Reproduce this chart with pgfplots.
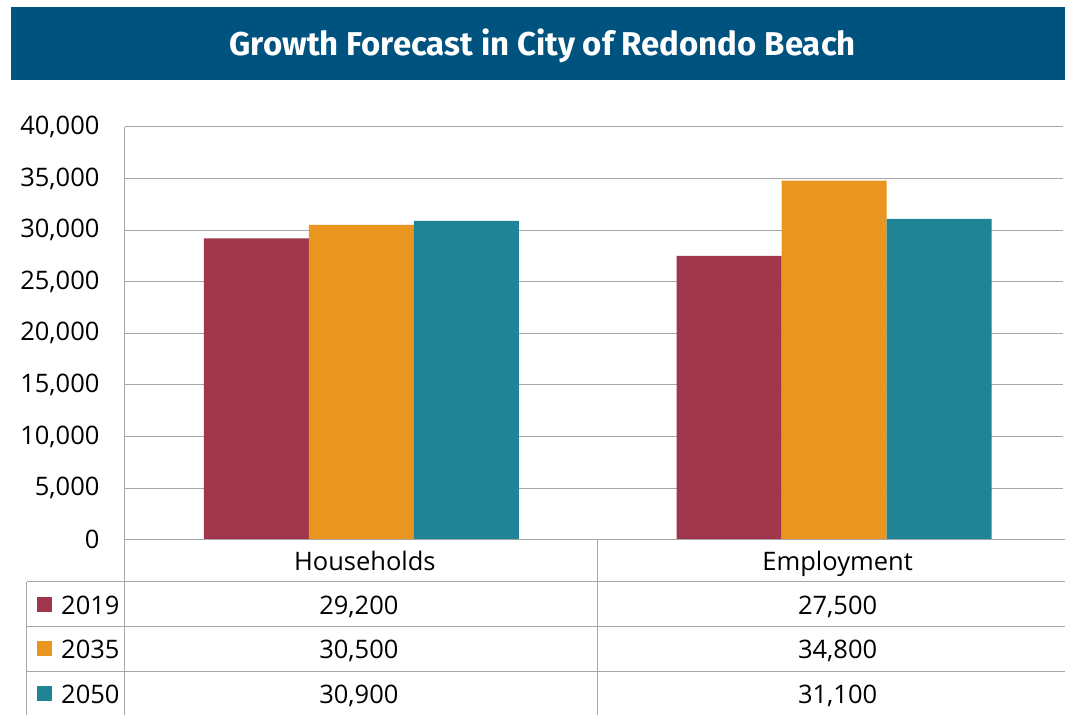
\documentclass[border=0pt]{standalone}
\usepackage{pgfplots}
\pgfplotsset{compat=1.18}
\usepackage{pgfplotstable}
\usepackage{fontspec}
\setmainfont{Open Sans}
\newfontfamily\titlefont{Fira Sans}
\definecolor{banner}{HTML}{00537F}
\definecolor{cA}{HTML}{A0364B}
\definecolor{cB}{HTML}{E8961F}
\definecolor{cC}{HTML}{1F8496}
\definecolor{gridc}{HTML}{A6A6A6}
\pgfplotstableread{
x y2019 y2035 y2050
0 29200 30500 30900
1 27500 34800 31100
}\data
\pgfkeys{/pgf/number format/.cd, fixed, 1000 sep={,}, assume math mode=true}
\newcommand\val[2]{\pgfplotstablegetelem{#1}{#2}\of\data\pgfmathprintnumber{\pgfplotsretval}}
\begin{document}
\begin{tikzpicture}
\begin{scope}[x=1pt,y=1pt]
\useasboundingbox (0,0) rectangle (1065,-715);
\fill[banner] (11,-7) rectangle (1065,-80);
\node[text=white, font=\titlefont\bfseries\fontsize{33}{35}\selectfont] at (543,-45.5) {Growth Forecast in City of Redondo Beach};
\end{scope}
\begin{axis}[
  at={(125pt,-540pt)}, anchor=south west,
  scale only axis, width=938pt, height=413pt,
  xmin=-0.5, xmax=1.483, ymin=0, ymax=40000,
  ytick={0,5000,...,40000}, xtick=\empty,
  ymajorgrids, grid style={draw=gridc, line width=1pt},
  axis lines*=left, axis line style={draw=gridc, line width=1pt},
  major tick length=0pt,
  scaled y ticks=false,
  yticklabel style={font=\fontsize{25.5}{26}\selectfont, /pgf/number format/.cd, fixed, 1000 sep={,}, assume math mode=true},
  yticklabel shift=22pt,
  ybar=0pt, bar width=105pt,
  clip=false,
]
\addplot[fill=cA, draw=none] table[x=x, y=y2019]{\data};
\addplot[fill=cB, draw=none] table[x=x, y=y2035]{\data};
\addplot[fill=cC, draw=none] table[x=x, y=y2050]{\data};
\end{axis}
\begin{scope}[x=1pt,y=1pt]
\begin{scope}[draw=gridc, line width=1pt]
\draw (125,-540) -- (1065,-540);
\draw (27,-582) -- (1065,-582);
\draw (27,-627) -- (1065,-627);
\draw (27,-672) -- (1065,-672);
\draw (27,-582) -- (27,-715);
\draw (125,-540) -- (125,-715);
\draw (598,-540) -- (598,-715);
\end{scope}
\begin{scope}[font=\fontsize{25.5}{26}\selectfont, every node/.style={anchor=base, inner sep=0}]
\node at (365,-571) {Households};
\node at (838,-571) {Employment};
\fill[cA] (37,-597) rectangle (52,-612);
\fill[cB] (37,-641) rectangle (52,-656);
\fill[cC] (37,-686) rectangle (52,-701);
\node[anchor=base west] at (61,-615) {2019};
\node[anchor=base west] at (61,-659) {2035};
\node[anchor=base west] at (61,-704) {2050};
\node at (359,-615) {\val{0}{y2019}};
\node at (359,-659) {\val{0}{y2035}};
\node at (359,-704) {\val{0}{y2050}};
\node at (838,-615) {\val{1}{y2019}};
\node at (838,-659) {\val{1}{y2035}};
\node at (838,-704) {\val{1}{y2050}};
\end{scope}
\end{scope}
\end{tikzpicture}
\end{document}
